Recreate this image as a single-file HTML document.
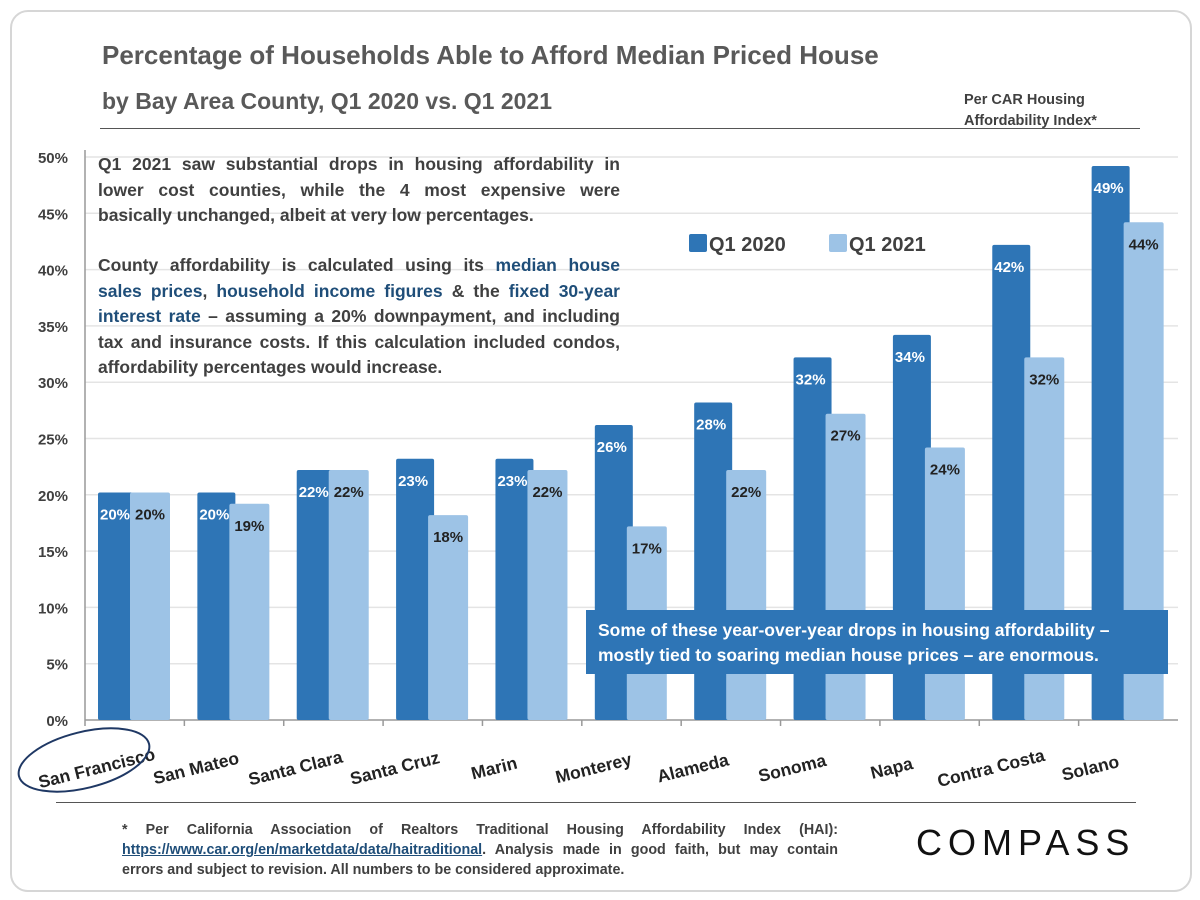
<!DOCTYPE html>
<html><head><meta charset="utf-8"><style>
body{margin:0;background:#fff;font-family:"Liberation Sans",sans-serif;}
#wrap{position:relative;width:1200px;height:900px;overflow:hidden;}
.card{position:absolute;left:10px;top:10px;width:1178px;height:878px;border:2px solid #d6d6d6;border-radius:18px;}
.t{position:absolute;color:#595959;font-weight:bold;}
.note{position:absolute;left:98px;width:522px;font-size:17.5px;font-weight:bold;color:#404040;text-align:justify;line-height:25.5px;}
.hl{color:#1f4e79;}
</style></head><body>
<div id="wrap">
<div class="card"></div>
<div class="t" style="left:102px;top:40px;font-size:26px;">Percentage of Households Able to Afford Median Priced House</div>
<div class="t" style="left:102px;top:88px;font-size:23px;">by Bay Area County, Q1 2020 vs. Q1 2021</div>
<div style="position:absolute;left:100px;top:128px;width:1040px;height:1px;background:#555"></div>
<div class="t" style="left:964px;top:90px;font-size:14.5px;line-height:21px;color:#404040">Per CAR Housing<br>Affordability Index*</div>
<svg id="chart" width="1200" height="900" style="position:absolute;left:0;top:0"></svg>
<div class="note" style="top:152px">Q1 2021 saw substantial drops in housing affordability in lower cost counties, while the 4 most expensive were basically unchanged, albeit at very low percentages.</div>
<div class="note" style="top:253px">County affordability is calculated using its <span class="hl">median house sales prices</span>, <span class="hl">household income figures</span> &amp; the <span class="hl">fixed 30-year interest rate</span> – assuming a 20% downpayment, and including tax and insurance costs. If this calculation included condos, affordability percentages would increase.</div>
<div style="position:absolute;left:586px;top:610px;width:582px;height:64px;background:#2e75b6;color:#fff;font-weight:bold;font-size:17.5px;line-height:25px;padding:8px 0 0 12px;box-sizing:border-box">Some of these year-over-year drops in housing affordability – mostly tied to soaring median house prices – are enormous.</div>
<div style="position:absolute;left:56px;top:802px;width:1080px;height:1px;background:#555"></div>
<div style="position:absolute;left:122px;top:820px;width:716px;font-size:14.3px;font-weight:bold;color:#404040;line-height:20px;text-align:justify">* Per California Association of Realtors Traditional Housing Affordability Index (HAI): <span style="color:#1f4e79;text-decoration:underline">https://www.car.org/en/marketdata/data/haitraditional</span>. Analysis made in good faith, but may contain errors and subject to revision. All numbers to be considered approximate.</div>
<div style="position:absolute;left:916px;top:822px;font-size:36px;letter-spacing:6px;color:#111;font-family:'Liberation Sans',sans-serif">COMPASS</div>
</div>
<script>
const categories=["San Francisco","San Mateo","Santa Clara","Santa Cruz","Marin","Monterey","Alameda","Sonoma","Napa","Contra Costa","Solano"];
const q2020=[20.2,20.2,22.2,23.2,23.2,26.2,28.2,32.2,34.2,42.2,49.2];
const q2021=[20.2,19.2,22.2,18.2,22.2,17.2,22.2,27.2,24.2,32.2,44.2];
const yTicks=[0,5,10,15,20,25,30,35,40,45,50];
const NS="http://www.w3.org/2000/svg";
const svg=document.getElementById('chart');
const x0=85,x1=1178,y0=720,y50=157;
const y=v=>y0-(y0-y50)*v/50;
const gw=(x1-x0)/categories.length;
function mk(t,a,p){const e=document.createElementNS(NS,t);for(const k in a)e.setAttribute(k,a[k]);(p||svg).appendChild(e);return e;}
yTicks.forEach(v=>{
  if(v>0){const g=mk('line',{x1:x0,x2:x1,y1:y(v),y2:y(v),stroke:'#e4e4e4','stroke-width':1.5});
  
  }
  const t=mk('text',{x:68,y:y(v)+6,'text-anchor':'end','font-size':15,'font-weight':'bold',fill:'#404040'});
  t.textContent=v+'%';
  
  
});
const ax=mk('line',{x1:x0,x2:x0,y1:150,y2:y0,stroke:'#999','stroke-width':1.5});


const bx=mk('line',{x1:x0,x2:x1,y1:y0,y2:y0,stroke:'#999','stroke-width':1.5});


categories.forEach((c,i)=>{
  const gs=x0+i*gw;
  const tk=mk('line',{x1:gs,x2:gs,y1:y0,y2:y0+6,stroke:'#999','stroke-width':1.5});
  
  
  const bw=38,ax1=gs+13,ax2=gs+45;
  const b1=mk('rect',{x:ax1,y:y(q2020[i]),width:bw,height:y0-y(q2020[i]),fill:'#2e75b6',rx:2});
  
  
  const b2=mk('rect',{x:ax2,y:y(q2021[i]),width:bw+2,height:y0-y(q2021[i]),fill:'#9dc3e6',rx:2});
  
  
  const l1=mk('text',{x:ax1+17,y:y(q2020[i])+27,'text-anchor':'middle','font-size':15,'font-weight':'bold',fill:'#fff'});
  l1.textContent=Math.round(q2020[i])+'%';
  
  
  const l2=mk('text',{x:ax2+20,y:y(q2021[i])+27,'text-anchor':'middle','font-size':15,'font-weight':'bold',fill:'#222'});
  l2.textContent=Math.round(q2021[i])+'%';
  
  
  const cx=gs+gw/2-38;
  const cl=mk('text',{x:cx,y:y0+54,'text-anchor':'middle','font-size':17.5,'font-weight':'bold',fill:'#222',transform:`rotate(-14 ${cx} ${y0+48})`});
  cl.textContent=c;
  
  
});
const el=mk('ellipse',{cx:84,cy:760,rx:67,ry:28,fill:'none',stroke:'#1f3864','stroke-width':2,transform:'rotate(-14 84 760)'});


[[689,'#2e75b6','Q1 2020'],[829,'#9dc3e6','Q1 2021']].forEach(([lx,col,txt])=>{
  const r=mk('rect',{x:lx,y:234,width:18,height:18,fill:col,rx:2});
  
  
  const t=mk('text',{x:lx+20,y:251,'font-size':20,'font-weight':'bold',fill:'#404040'});
  t.textContent=txt;
  
  
});
</script>
</body></html>
